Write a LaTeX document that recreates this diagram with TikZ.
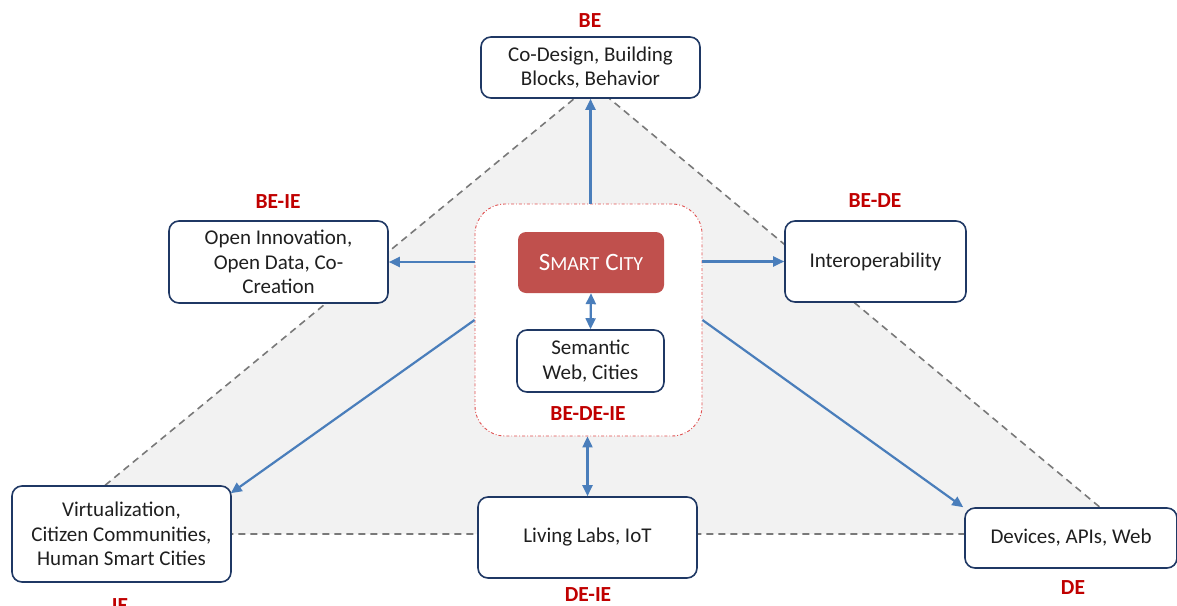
\documentclass[tikz,border=0pt]{standalone}
\usepackage{fontspec}
\setmainfont{Carlito}
\usetikzlibrary{arrows.meta,calc}
\definecolor{boxline}{HTML}{1F3864}
\definecolor{flow}{HTML}{4A7EBB}
\definecolor{tag}{HTML}{C00000}
\definecolor{hub}{HTML}{C0504D}
\definecolor{zone}{HTML}{F2F2F2}
\definecolor{ink}{HTML}{1F1F1F}
\newcommand{\capsA}[1]{{\fontsize{25}{28}\selectfont #1}}
\newcommand{\capsB}[1]{{\fontsize{20}{28}\selectfont #1}}
\begin{document}
\begin{tikzpicture}[x=1pt,y=-1pt,
  topic/.style={draw=boxline, line width=1.6pt, fill=white, rounded corners=10pt,
    align=center, text=ink, font=\fontsize{21}{24.5}\selectfont, inner sep=0pt},
  tagtext/.style={text=tag, font=\bfseries\fontsize{21.5}{24}\selectfont, inner sep=0pt},
  flowline/.style={draw=flow, line width=2.2pt, -{Triangle[length=11pt,width=10pt]}},
  twoway/.style={draw=flow, line width=2.2pt, {Triangle[length=11pt,width=10pt]}-{Triangle[length=11pt,width=10pt]}},
  border/.style={draw=gray!95!black, line width=1.6pt, dash pattern=on 7pt off 5pt}]
\useasboundingbox (0,0) rectangle (1177,605);

% shaded triangle behind the topics
\coordinate (apex) at (592,84);
\coordinate (lcorner) at (46,534);
\coordinate (rcorner) at (1132,534);
\fill[zone] (apex) -- (lcorner) -- (rcorner) -- cycle;
\draw[border] (apex) -- (lcorner) -- (rcorner) -- cycle;

% central zone
\node[draw={rgb,255:red,224;green,80;blue,80}, line width=0.9pt, dash dot, fill=white,
  rounded corners=30pt, minimum width=227pt, minimum height=232pt, inner sep=0pt]
  (core) at (588.5,320) {};
\node[fill=hub, rounded corners=8pt, minimum width=146pt, minimum height=61pt,
  inner sep=0pt, text=white] (smart) at (591,262.5)
  {\capsA{S}\capsB{MART}\hspace{6pt}\capsA{C}\capsB{ITY}};
\node[topic, minimum width=147pt, minimum height=62pt] (sem) at (590.5,361)
  {Semantic\\Web, Cities};
\node[tagtext] (tcore) at (588,414) {BE-DE-IE};

% outer topics
\node[topic, minimum width=219pt, minimum height=61pt] (be) at (590.5,67.5)
  {Co-Design, Building\\Blocks, Behavior};
\node[topic, minimum width=219pt, minimum height=82pt] (beie) at (278.5,262)
  {Open Innovation,\\Open Data, Co-\\Creation};
\node[topic, minimum width=181pt, minimum height=81pt] (bede) at (875.5,261.5)
  {Interoperability};
\node[topic, minimum width=219pt, minimum height=96pt] (ie) at (121.5,534)
  {Virtualization,\\Citizen Communities,\\Human Smart Cities};
\node[topic, minimum width=219pt, minimum height=81pt] (deie) at (587.5,537.5)
  {Living Labs, IoT};
\node[topic, minimum width=212pt, minimum height=60pt] (de) at (1071,538)
  {Devices, APIs, Web};

% tags
\node[tagtext] (tbe) at (590,21) {BE};
\node[tagtext] (tbeie) at (278,202) {BE-IE};
\node[tagtext] (tbede) at (875,201) {BE-DE};
\node[tagtext] (tie) at (120,606) {IE};
\node[tagtext] (tdeie) at (588,595) {DE-IE};
\node[tagtext] (tde) at (1073,588) {DE};

% connectors
\draw[flowline] (core.north -| be.south) -- (be.south);
\draw[flowline] (core.west |- beie.east) -- (beie.east);
\draw[flowline] (core.east |- bede.west) -- (bede.west);
\draw[twoway] (smart.south) -- (sem.north);
\draw[flowline] (core.west) -- ($(ie.north east)+(-1,8)$);
\draw[flowline] (core.east) -- ($(de.north west)+(-1,0)$);
\draw[twoway] (core.south -| deie.north) -- (deie.north);
\end{tikzpicture}
\end{document}
